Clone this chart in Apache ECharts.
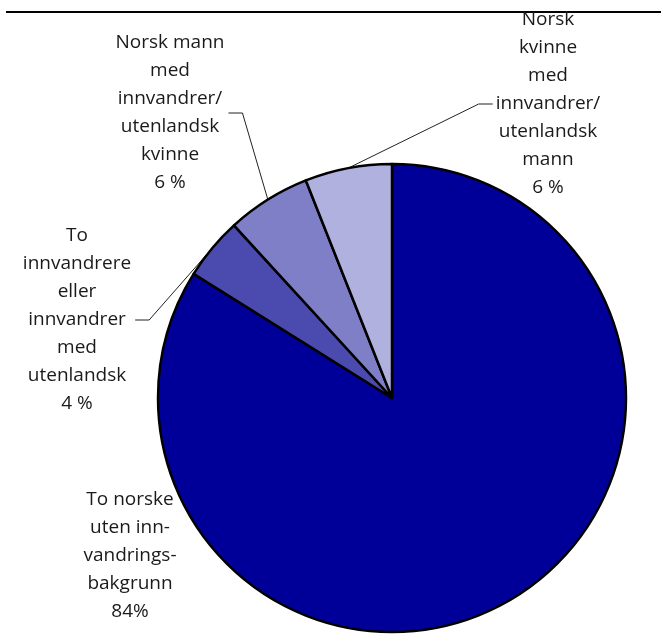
<!DOCTYPE html>
<html>
<head>
<meta charset="utf-8">
<script src="https://cdn.jsdelivr.net/npm/echarts@6/dist/echarts.min.js"></script>
<style>html,body{margin:0;padding:0;background:#fff}#c{width:661px;height:634px}</style>
</head>
<body>
<div id="c"></div>
<script>
const categories = [
  "To norske\nuten inn-\nvandrings-\nbakgrunn",
  "To\ninnvandrere\neller\ninnvandrer\nmed\nutenlandsk",
  "Norsk mann\nmed\ninnvandrer/\nutenlandsk\nkvinne",
  "Norsk\nkvinne\nmed\ninnvandrer/\nutenlandsk\nmann"
];
const values = [83.9, 4.3, 5.8, 6.0];
const valueLabels = ["84%", "4 %", "6 %", "6 %"];
const colors = ["#000099", "#4B4BAF", "#7F7FC8", "#B1B1DF"];

// label block centres and which side the leader enters from
const labelPos = [
  {x: 130, y: 556, side: 0},
  {x: 77, y: 320, side: -1},
  {x: 170, y: 113, side: -1},
  {x: 548, y: 104, side: 1}
];

const chart = echarts.init(document.getElementById('c'), null, {renderer: 'canvas'});
const data = categories.map((n, i) => ({
  name: n,
  value: values[i],
  itemStyle: {color: colors[i]},
  labelLine: {show: i !== 0}
}));

chart.setOption({
  animation: false,
  backgroundColor: '#fff',
  graphic: [{
    type: 'rect', left: 6, top: 11,
    shape: {width: 655, height: 2},
    style: {fill: '#000'}
  }],
  series: [{
    type: 'pie',
    center: [392, 398],
    radius: 234,
    startAngle: 90,
    clockwise: true,
    data: data,
    itemStyle: {borderColor: '#000', borderWidth: 2.5},
    emphasis: {disabled: true},
    label: {
      show: true,
      position: 'outside',
      formatter: p => p.name + '\n' + valueLabels[p.dataIndex],
      fontFamily: '"Open Sans", sans-serif',
      fontSize: 19,
      lineHeight: 28,
      color: '#1a1a1a',
      align: 'center'
    },
    labelLine: {
      show: true,
      length: 20, length2: 10,
      smooth: false,
      lineStyle: {color: '#222', width: 1}
    },
    labelLayout: function (params) {
      const i = params.dataIndex;
      const lp = labelPos[i];
      const w = params.labelRect.width;
      const res = {x: lp.x, y: lp.y, align: 'center', verticalAlign: 'middle'};
      if (lp.side !== 0 && params.labelLinePoints) {
        const start = params.labelLinePoints[0];
        let endX, bendX;
        if (lp.side < 0) { endX = lp.x + w / 2 + 4; bendX = endX + 14; }
        else { endX = lp.x - w / 2 - 3; bendX = endX - 14; }
        res.labelLinePoints = [start, [bendX, lp.y], [endX, lp.y]];
      }
      return res;
    }
  }]
});
</script>
</body>
</html>
